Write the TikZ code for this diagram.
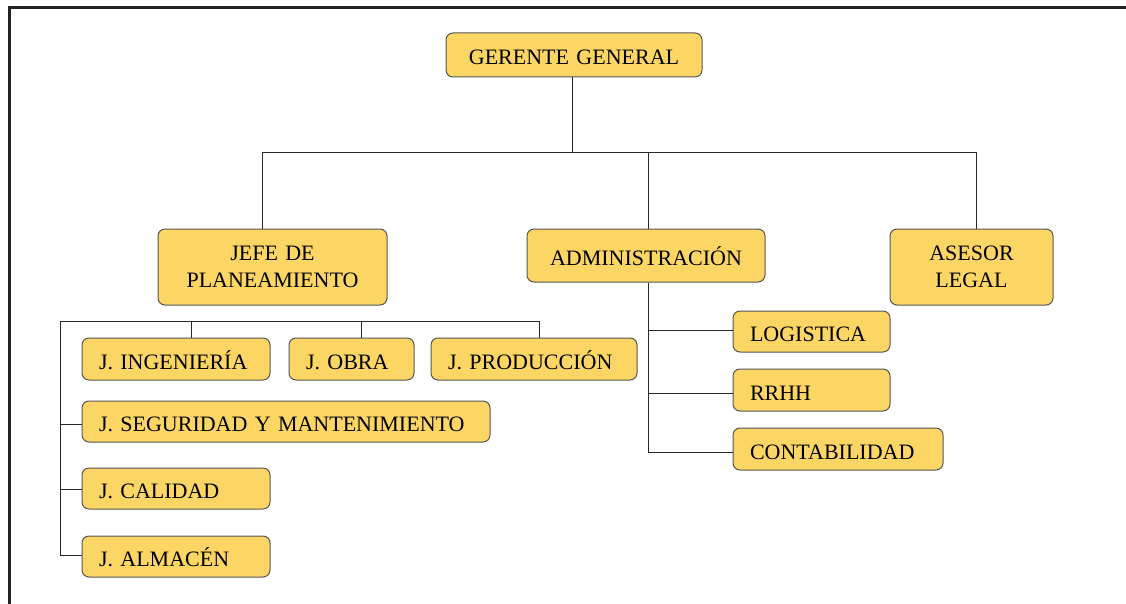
\documentclass[tikz,border=0pt]{standalone}
\usepackage{fontspec}
\setmainfont{Liberation Serif}
\definecolor{boxfill}{RGB}{252,214,100}
\definecolor{boxdraw}{RGB}{85,85,85}
\definecolor{linec}{RGB}{40,40,40}
\definecolor{framec}{RGB}{35,35,35}
\tikzset{
  orgbox/.style={draw=boxdraw, fill=boxfill, rounded corners=7pt, line width=1pt,
    inner xsep=17pt, inner ysep=0pt, font=\fontsize{22}{27}\selectfont, text=black},
  oneline/.style={text height=20pt, text depth=0pt},
  twoline/.style={},
  conn/.style={draw=linec, line width=1pt},
}
\newcommand{\orgnode}[8]{% name, x1, y1, x2, y2, align, style, text
  \pgfmathsetmacro{\cxx}{(#2+#4)/2}\pgfmathsetmacro{\cyy}{(#3+#5)/2}
  \pgfmathsetmacro{\www}{#4-#2}\pgfmathsetmacro{\hhh}{#5-#3}
  \pgfmathsetmacro{\ttw}{#4-#2-34}
  \node[orgbox, #7, minimum width=\www pt, minimum height=\hhh pt, text width=\ttw pt, align=#6] (#1) at (\cxx,\cyy) {#8};
}
\begin{document}
\begin{tikzpicture}[x=1pt,y=-1pt]
\useasboundingbox (0,0) rectangle (1126,604);
\fill[white] (0,0) rectangle (1126,604);
% frame
\draw[framec, line width=3pt] (9,604) -- (9,8) -- (1126,8);

\orgnode{gg}{446}{33}{702}{77}{center}{oneline}{GERENTE GENERAL}
\orgnode{jp}{158}{229}{387}{305}{center}{twoline}{JEFE DE\\PLANEAMIENTO}
\orgnode{adm}{527}{229}{765}{282}{center}{oneline}{ADMINISTRACIÓN}
\orgnode{al}{890}{229}{1053}{305}{center}{twoline}{ASESOR\\LEGAL}

\orgnode{ing}{82}{338}{270}{380}{left}{oneline}{J. INGENIERÍA}
\orgnode{obra}{289}{338}{414}{380}{left}{oneline}{J. OBRA}
\orgnode{prod}{431}{338}{637}{380}{left}{oneline}{J. PRODUCCIÓN}
\orgnode{seg}{82}{401}{490}{442}{left}{oneline}{J. SEGURIDAD Y MANTENIMIENTO}
\orgnode{cal}{82}{468}{270}{509}{left}{oneline}{J. CALIDAD}
\orgnode{alm}{82}{536}{270}{577}{left}{oneline}{J. ALMACÉN}

\orgnode{log}{733}{311}{890}{352}{left}{oneline}{LOGISTICA}
\orgnode{rrhh}{733}{369}{890}{411}{left}{oneline}{RRHH}
\orgnode{cont}{733}{428}{943}{470}{left}{oneline}{CONTABILIDAD}

% top level connectors
\coordinate (t0) at (572,153);
\draw[conn] (gg.south -| t0) -- (t0);
\draw[conn] (jp.north -| 262,0) -- (262,153) -- (976,153) -- (al.north -| 976,0);
\draw[conn] (648,153) -- (adm.north -| 648,0);

% planeamiento children
\draw[conn] (60,555) -- (60,321) -- (539,321);
\draw[conn] (191,321) -- (ing.north -| 191,0);
\draw[conn] (361,321) -- (obra.north -| 361,0);
\draw[conn] (539,321) -- (prod.north -| 539,0);
\draw[conn] (60,424) -- (seg.west |- 0,424);
\draw[conn] (60,489) -- (cal.west |- 0,489);
\draw[conn] (60,555) -- (alm.west |- 0,555);

% administracion children
\draw[conn] (adm.south -| 648,0) -- (648,452);
\draw[conn] (648,330) -- (log.west |- 0,330);
\draw[conn] (648,393) -- (rrhh.west |- 0,393);
\draw[conn] (648,452) -- (cont.west |- 0,452);
\end{tikzpicture}
\end{document}
